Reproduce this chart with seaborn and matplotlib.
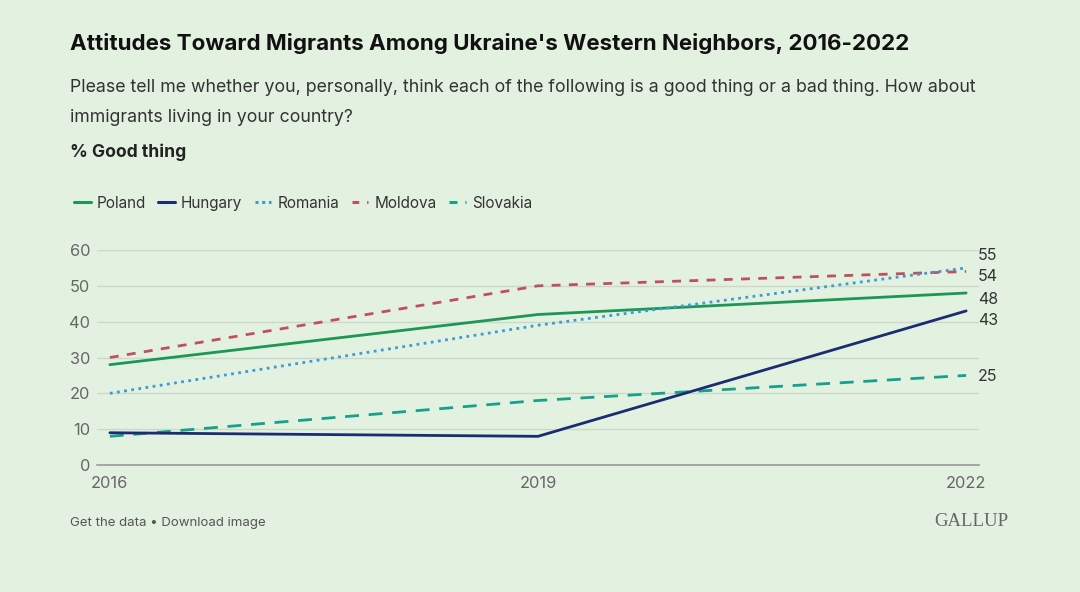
import matplotlib
matplotlib.use("Agg")
import matplotlib.pyplot as plt
import seaborn as sns
import pandas as pd
from matplotlib.lines import Line2D

years = [2016, 2019, 2022]
countries = ["Poland", "Hungary", "Romania", "Moldova", "Slovakia"]
poland = [28, 42, 48]
hungary = [9, 8, 43]
romania = [20, 39, 55]
moldova = [30, 50, 54]
slovakia = [8, 18, 25]
series = [poland, hungary, romania, moldova, slovakia]

colors = ["#1e9655", "#1b2c72", "#3a9bd8", "#c0505f", "#17a08a"]
dash_styles = [None, None, (1, 1.6), (3.2, 3), (5, 3.5)]
legend_dashes = [None, None, (1, 1.2), (2.2, 2.6), (2.6, 2.6)]
# vertical placement of the end labels (layout, in data units)
label_y = [46.3, 40.2, 58.6, 52.5, 24.7]

bg = "#e3f1e0"
sns.set_theme(style="white")
plt.rcParams["font.family"] = ["Inter", "DejaVu Sans"]

fig = plt.figure(figsize=(10.8, 5.92), dpi=100, facecolor=bg)
ax = fig.add_axes([97 / 1080, (592 - 465) / 592, 882 / 1080, 215 / 592])
ax.set_facecolor(bg)

order = [3, 0, 2, 4, 1]
for i in order:
    df = pd.DataFrame({"year": years, "value": series[i]})
    sns.lineplot(data=df, x="year", y="value", ax=ax, color=colors[i],
                 linewidth=2.0, legend=False)
    line = ax.lines[-1]
    if dash_styles[i] is not None:
        line.set_dashes(dash_styles[i])
    line.set_zorder(3)

ax.set_xlim(2015.91, 2022.09)
ax.set_ylim(0, 60)
ax.set_yticks([0, 10, 20, 30, 40, 50, 60])
ax.set_xticks(years)
ax.set_xticklabels([str(y) for y in years])
ax.set_xlabel("")
ax.set_ylabel("")
ax.grid(axis="y", color="#cdd8ca", linewidth=1)
ax.grid(axis="x", visible=False)
for s in ["top", "right", "left"]:
    ax.spines[s].set_visible(False)
ax.spines["bottom"].set_color("#9a9a9a")
ax.spines["bottom"].set_linewidth(1.2)
ax.spines["bottom"].set_zorder(1)
ax.tick_params(axis="both", length=0, labelsize=11.8, labelcolor="#666666")
ax.tick_params(axis="y", pad=5)
ax.tick_params(axis="x", pad=8)

for i in range(len(countries)):
    ax.annotate(str(series[i][-1]), xy=(years[-1], label_y[i]),
                xytext=(12, 0), textcoords="offset pixels",
                va="center", ha="left", fontsize=11.5, color="#333333",
                annotation_clip=False)

fig.text(70 / 1080, 1 - 43 / 592, "Attitudes Toward Migrants Among Ukraine's Western Neighbors, 2016-2022",
         fontsize=16.1, fontweight="bold", color="#111111", va="center", ha="left",
         family=["Liberation Sans Narrow", "Inter", "DejaVu Sans"])
fig.text(70 / 1080, 1 - 87 / 592,
         "Please tell me whether you, personally, think each of the following is a good thing or a bad thing. How about",
         fontsize=12.75, color="#333333", va="center", ha="left")
fig.text(70 / 1080, 1 - 118 / 592, "immigrants living in your country?",
         fontsize=12.75, color="#333333", va="center", ha="left")
fig.text(70 / 1080, 1 - 152 / 592, "% Good thing",
         fontsize=12.6, fontweight="bold", color="#222222", va="center", ha="left")

handles = []
for i in range(len(countries)):
    h = Line2D([0], [0], color=colors[i], linewidth=2.2)
    if legend_dashes[i] is not None:
        h.set_dashes(legend_dashes[i])
    handles.append(h)
fig.legend(handles, countries, loc="center left", bbox_to_anchor=(60 / 1080, 1 - 203 / 592),
           ncol=5, frameon=False, handlelength=1.1, handletextpad=0.4,
           columnspacing=0.8, fontsize=11, labelcolor="#333333")

fig.text(70 / 1080, 1 - 523 / 592, "Get the data \u2022 Download image",
         fontsize=9.5, color="#555555", va="center", ha="left")
fig.text(1008 / 1080, 1 - 522 / 592, "GALLUP", fontsize=13.5, color="#666666",
         va="center", ha="right", family=["Liberation Serif", "DejaVu Serif"])

fig.savefig("out.png", dpi=100, facecolor=bg)
